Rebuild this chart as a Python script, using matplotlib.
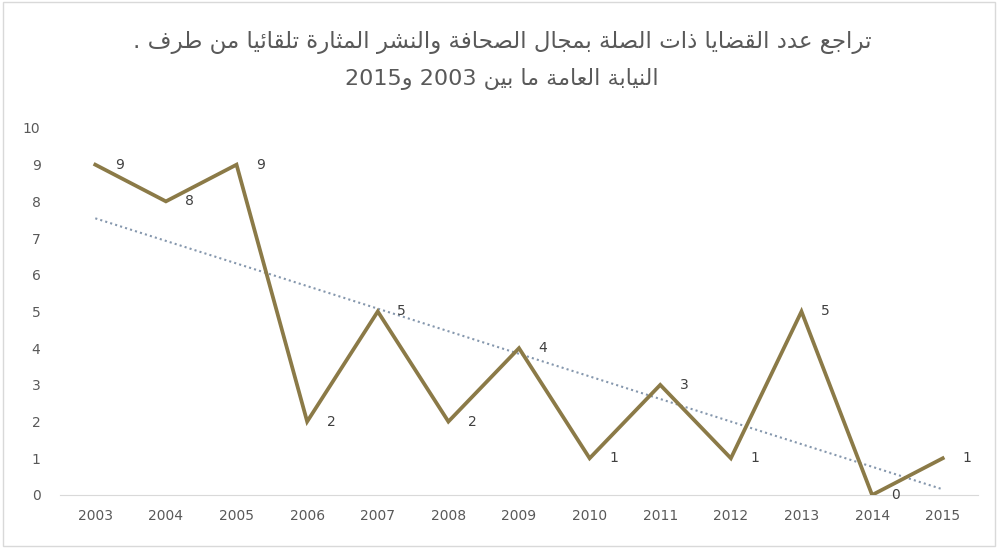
import numpy as np
import matplotlib.pyplot as plt
from matplotlib.patches import Rectangle

# data
years = [2003, 2004, 2005, 2006, 2007, 2008, 2009, 2010, 2011, 2012, 2013, 2014, 2015]
cases = [9, 8, 9, 2, 5, 2, 4, 1, 3, 1, 5, 0, 1]

title_1 = "تراجع عدد القضايا ذات الصلة بمجال الصحافة والنشر المثارة تلقائيا من طرف ."
title_2 = "النيابة العامة ما بين 2003 و2015"

y_ticks = list(range(0, 11))


# matplotlib has no arabic shaping, so do a small one by hand
# (presentation forms B: isolated, final, initial, medial)
def _forms():
    table = {}
    two = {0x0622: 0xFE81, 0x0623: 0xFE83, 0x0624: 0xFE85, 0x0625: 0xFE87,
           0x0627: 0xFE8D, 0x0629: 0xFE93, 0x062F: 0xFEA9, 0x0630: 0xFEAB,
           0x0631: 0xFEAD, 0x0632: 0xFEAF, 0x0648: 0xFEED, 0x0649: 0xFEEF}
    four = {0x0626: 0xFE89, 0x0628: 0xFE8F, 0x062A: 0xFE95, 0x062B: 0xFE99,
            0x062C: 0xFE9D, 0x062D: 0xFEA1, 0x062E: 0xFEA5, 0x0633: 0xFEB1,
            0x0634: 0xFEB5, 0x0635: 0xFEB9, 0x0636: 0xFEBD, 0x0637: 0xFEC1,
            0x0638: 0xFEC5, 0x0639: 0xFEC9, 0x063A: 0xFECD, 0x0641: 0xFED1,
            0x0642: 0xFED5, 0x0643: 0xFED9, 0x0644: 0xFEDD, 0x0645: 0xFEE1,
            0x0646: 0xFEE5, 0x0647: 0xFEE9, 0x064A: 0xFEF1}
    for k, v in two.items():
        table[chr(k)] = (chr(v), chr(v + 1), None, None)
    for k, v in four.items():
        table[chr(k)] = (chr(v), chr(v + 1), chr(v + 2), chr(v + 3))
    table['\u0621'] = ('\uFE80', None, None, None)
    return table


FORMS = _forms()


def shape(text):
    out = []
    n = len(text)
    for i, c in enumerate(text):
        if c not in FORMS:
            out.append(c)
            continue
        iso, fin, ini, med = FORMS[c]
        prev = text[i - 1] if i > 0 else ''
        nxt = text[i + 1] if i < n - 1 else ''
        join_prev = prev in FORMS and FORMS[prev][2] is not None and fin is not None
        join_next = nxt in FORMS and FORMS[nxt][1] is not None and ini is not None
        if join_prev and join_next:
            out.append(med)
        elif join_prev:
            out.append(fin)
        elif join_next:
            out.append(ini)
        else:
            out.append(iso)
    s = ''.join(out)[::-1]
    # put digit runs back in left-to-right order
    res, run = [], ''
    for c in s:
        if c.isdigit():
            run += c
        else:
            if run:
                res.append(run[::-1])
                run = ''
            res.append(c)
    if run:
        res.append(run[::-1])
    return ''.join(res)


line_col = '#8b7a47'
txt_col = '#595959'

fig = plt.figure(figsize=(9.98, 5.49), dpi=100)
ax = fig.add_axes([0.0601, 0.0984, 0.9199, 0.6685])

x = np.arange(len(years))
ax.plot(x, cases, color=line_col, lw=2.7, solid_joinstyle='miter', zorder=3)

# linear trendline
k, b = np.polyfit(x, cases, 1)
ax.plot(x, k * x + b, color='#8597ad', lw=1.5, ls=(0, (1, 1.5)), zorder=2)

for xi, v in zip(x, cases):
    ax.annotate(str(v), (xi, v), xytext=(14, 0), textcoords='offset points',
                ha='left', va='center', fontsize=10, color='#404040')

ax.set_xlim(-0.5, len(years) - 0.5)
ax.set_ylim(0, 10)
ax.set_xticks(x)
ax.set_xticklabels([str(y) for y in years])
ax.set_yticks(y_ticks)
ax.tick_params(axis='both', length=0, colors=txt_col, labelsize=10)
ax.tick_params(axis='y', pad=14)
ax.tick_params(axis='x', pad=10)
for s in ['top', 'right', 'left']:
    ax.spines[s].set_visible(False)
ax.spines['bottom'].set_color('#d9d9d9')

fig.text(0.503, 0.922, shape(title_1), ha='center', va='center', fontsize=16.5,
         color=txt_col, family='DejaVu Sans')
fig.text(0.503, 0.856, shape(title_2), ha='center', va='center', fontsize=16,
         color=txt_col, family='DejaVu Sans')

fig.patches.append(Rectangle((0.003, 0.005), 0.994, 0.992, transform=fig.transFigure,
                             fill=False, edgecolor='#d9d9d9', lw=1))

fig.savefig('out.png', dpi=100)
